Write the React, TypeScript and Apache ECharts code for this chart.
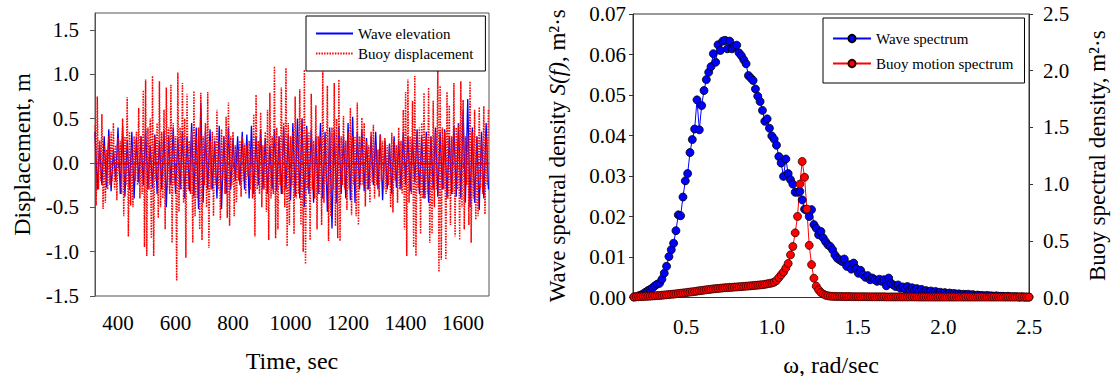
import React, { useEffect, useRef } from "react";
import * as echarts from "echarts";

const FONT = "Liberation Serif";

// ---- Left panel: time series ----
const TIME_START = 320;
const WAVE_STEP = 8;
const BUOY_STEP = 4;
const TIME_TICKS = [400, 600, 800, 1000, 1200, 1400, 1600];
const DISP_TICKS = [-1.5, -1.0, -0.5, 0, 0.5, 1.0, 1.5];

const waveElevation = [
  0.35, -0.3, 0.2, -0.25, 0.3, -0.28, 0.38, -0.32, 0.15, -0.2,
  0.4, -0.35, 0.42, -0.38, 0.25, -0.3, 0.35, -0.4, 0.28, -0.22,
  0.3, -0.25, 0.38, -0.3, 0.2, -0.28, 0.32, -0.35, 0.25, -0.3,
  0.36, -0.5, 0.3, -0.25, 0.4, -0.35, 0.28, -0.3, 0.35, -0.4,
  0.3, -0.32, 0.45, -0.38, 0.4, -0.52, 0.68, -0.45, 0.35, -0.3,
  0.38, -0.3, 0.25, -0.4, 0.42, -0.52, 0.3, -0.35, 0.4, -0.3,
  0.28, -0.2, 0.3, -0.25, 0.35, -0.3, 0.32, -0.4, 0.42, -0.35,
  0.3, -0.25, 0.38, -0.3, 0.28, -0.35, 0.2, -0.3, 0.38, -0.32,
  0.3, -0.35, 0.4, -0.3, 0.32, -0.42, 0.45, -0.38, 0.5, -0.4,
  0.5, -0.5, 0.42, -0.35, 0.38, -0.45, 0.3, -0.35, 0.45, -0.4,
  0.35, -0.55, 0.4, -0.74, 0.38, -0.45, 0.42, -0.35, 0.3, -0.4,
  0.45, -0.42, 0.52, -0.45, 0.35, -0.3, 0.38, -0.32, 0.28, -0.3,
  0.3, -0.25, 0.35, -0.3, 0.32, -0.42, 0.25, -0.3, 0.22, -0.35,
  0.3, -0.28, 0.25, -0.3, 0.35, -0.25, 0.3, -0.32, 0.28, -0.22,
  0.38, -0.35, 0.3, -0.4, 0.35, -0.45, 0.3, -0.3, 0.4, -0.38,
  0.35, -0.3, 0.38, -0.4, 0.3, -0.35, 0.42, -0.38, 0.45, -0.4,
  0.6, -0.45, 0.72, -0.5, 0.4, -0.45, 0.3, -0.53, 0.35, -0.4, 0.45, -0.3,
];

const buoyDisplacement = [
  0.42, -0.48, 0.75, -0.3, 0.25, -0.2, 0.55, -0.52, 0.2, -0.45, 0.15, -0.3, 0.3, -0.25, 0.35,
  -0.2, 0.45, -0.3, 0.2, -0.42, 0.28, -0.15, 0.25, -0.35, 0.5, -0.6, 0.3, -0.25, 0.74, -0.83,
  0.35, -0.48, 0.2, -0.5, 0.3, -0.2, 0.35, -0.25, 0.62, -0.4, 0.3, -0.35, 0.82, -0.95, 0.94,
  -1.05, 0.4, -0.3, 0.5, -0.85, 0.98, -1.05, 0.3, -0.2, 0.45, -0.62, 0.92, -0.5, 0.35, -0.4,
  0.6, -0.75, 0.85, -0.3, 0.4, -0.35, 0.88, -0.9, 0.45, -0.25, 0.3, -1.33, 1.02, -0.55, 0.4,
  -0.3, 0.9, -0.45, 0.5, -1.07, 0.78, -0.3, 0.25, -0.35, 0.35, -0.9, 0.81, -0.6, 0.3, -0.4,
  0.4, -0.75, 0.79, -0.87, 0.3, -0.25, 0.45, -0.5, 0.8, -0.96, 0.25, -0.3, 0.35, -0.6, 0.3,
  -0.25, 0.6, -0.3, 0.25, -0.64, 0.38, -0.2, 0.3, -0.35, 0.52, -0.62, 0.68, -0.71, 0.3, -0.25,
  0.35, -0.6, 0.2, -0.45, 0.15, -0.2, 0.25, -0.38, 0.3, -0.2, 0.22, -0.35, 0.2, -0.15, 0.25,
  -0.3, 0.15, -0.4, 0.55, -0.83, 0.77, -0.3, 0.25, -0.35, 0.57, -0.5, 0.2, -0.3, 0.35, -0.55,
  0.6, -0.87, 0.79, -0.4, 0.3, -0.35, 1.09, -0.85, 0.4, -0.75, 0.3, -0.25, 0.85, -0.35, 0.45,
  -0.5, 1.07, -0.94, 0.45, -0.7, 0.3, -0.25, 0.35, -0.8, 0.75, -0.4, 0.3, -0.35, 0.83, -0.7,
  0.5, -1.0, 1.05, -1.14, 0.4, -0.3, 0.35, -0.87, 0.78, -0.3, 0.25, -0.4, 0.65, -0.75, 0.3,
  -0.35, 0.3, -0.7, 1.03, -0.45, 0.3, -0.25, 0.87, -0.88, 0.35, -0.6, 0.4, -0.3, 0.9, -0.71,
  0.5, -0.85, 0.94, -0.88, 0.3, -0.25, 0.53, -0.3, 0.25, -0.53, 0.35, -0.3, 0.62, -0.59, 0.3,
  -0.25, 0.3, -0.6, 0.68, -0.7, 0.3, -0.25, 0.51, -0.25, 0.45, -0.49, 0.25, -0.3, 0.2, -0.45,
  0.35, -0.22, 0.43, -0.4, 0.2, -0.25, 0.15, -0.38, 0.32, -0.2, 0.25, -0.3, 0.28, -0.35, 0.2,
  -0.25, 0.2, -0.5, 0.34, -0.56, 0.25, -0.2, 0.2, -0.45, 0.4, -0.3, 0.25, -0.35, 0.6, -0.75,
  0.8, -1.05, 0.94, -0.45, 0.3, -0.35, 0.7, -0.95, 0.98, -1.05, 0.35, -0.3, 0.4, -0.8, 0.45,
  -0.4, 0.79, -0.4, 0.3, -0.35, 0.85, -0.9, 0.3, -0.8, 0.7, -0.5, 0.35, -0.3, 1.06, -1.23,
  0.87, -1.09, 0.4, -0.3, 0.35, -1.09, 0.8, -0.4, 0.65, -0.7, 0.3, -0.35, 0.9, -0.83, 0.4,
  -0.3, 0.45, -0.87, 0.92, -0.5, 0.71, -0.75, 0.3, -0.25, 0.3, -0.7, 0.92, -0.9, 0.35, -0.4,
  0.6, -0.64, 0.3, -0.6, 0.63, -0.3, 0.25, -0.35, 0.64, -0.58, 0.3, -0.25, 0.6,
];

// ---- Right panel: spectra ----
const OMEGA_START = 0.195;
const OMEGA_END = 2.5;
const OMEGA_TICKS = [0.5, 1.0, 1.5, 2.0, 2.5];

const waveSpectrum = [
  0.0001, 0.0002, 0.0004, 0.0006, 0.0009, 0.0013, 0.0017, 0.002, 0.0024, 0.0029,
  0.0033, 0.0035, 0.0045,
  0.006, 0.0077, 0.0101, 0.0118, 0.0134, 0.0165, 0.0204, 0.0202, 0.0248, 0.0288,
  0.0306, 0.0358, 0.039, 0.0416, 0.0488, 0.0414, 0.0474, 0.0511, 0.0538, 0.0556,
  0.057, 0.0602, 0.0581, 0.0624, 0.061, 0.0633, 0.0635, 0.0614, 0.0633, 0.0614,
  0.062, 0.0623, 0.0604, 0.0597, 0.0587, 0.0577, 0.0548, 0.0542, 0.0536, 0.0515,
  0.0497, 0.0484, 0.0462, 0.0435, 0.0441, 0.0418, 0.0399, 0.0391, 0.0376, 0.0348,
  0.0332, 0.0299,
  0.0342, 0.0306, 0.0291, 0.028, 0.026, 0.026, 0.0262, 0.0241, 0.0218, 0.0215,
  0.02, 0.0217, 0.018, 0.0171, 0.0155, 0.0163, 0.0147, 0.0138, 0.013, 0.0126,
  0.0118, 0.0105, 0.0097, 0.0093, 0.0089, 0.0095, 0.0077, 0.0081, 0.007, 0.0085,
  0.0072, 0.006, 0.0067, 0.0056, 0.005, 0.0054, 0.0044, 0.0048, 0.0044, 0.004,
  0.0045, 0.004, 0.0044, 0.0029, 0.0048, 0.0035, 0.0031, 0.0027, 0.0031, 0.0023,
  0.0026, 0.0021, 0.0027, 0.0019,
  0.0024, 0.0018, 0.0022, 0.0016, 0.002, 0.0015, 0.0017, 0.0013, 0.0016, 0.0012,
  0.0015, 0.0011, 0.0013, 0.001, 0.0012, 0.0009, 0.0011, 0.0009, 0.001, 0.0008,
  0.0009, 0.0007, 0.0008, 0.0007, 0.0008, 0.0006, 0.0007, 0.0005, 0.0006, 0.0005,
  0.0005, 0.0004, 0.0005, 0.0004, 0.0004, 0.0003, 0.0004, 0.0003, 0.0003, 0.0003,
  0.0002, 0.0003, 0.0002, 0.0002, 0.0002, 0.0002, 0.0001, 0.0002, 0.0001, 0.0001, 0.0001,
];

const buoySpectrum = [
  0.005, 0.006, 0.007, 0.008, 0.009, 0.01, 0.011, 0.012, 0.014, 0.015, 0.017, 0.018, 0.02, 0.022,
  0.024, 0.026, 0.028, 0.03, 0.032, 0.035, 0.037, 0.04, 0.042, 0.045, 0.048, 0.05, 0.053, 0.056,
  0.06, 0.062, 0.065, 0.068, 0.07, 0.073, 0.076, 0.078, 0.08, 0.082, 0.084, 0.086, 0.087, 0.089,
  0.09, 0.092, 0.093, 0.095, 0.096, 0.098, 0.1, 0.101, 0.103, 0.105, 0.107, 0.109, 0.111, 0.113,
  0.116, 0.12, 0.124, 0.128, 0.135,
  0.15, 0.175, 0.2, 0.225, 0.26, 0.3, 0.376, 0.45, 0.57, 0.715, 1.0, 1.2, 1.06, 0.78, 0.46,
  0.29, 0.17, 0.1, 0.068, 0.044, 0.03, 0.02, 0.015, 0.012, 0.01,
  0.01, 0.009, 0.009, 0.009, 0.008, 0.008, 0.008, 0.008, 0.007, 0.007,
  0.007, 0.007, 0.007, 0.007, 0.006, 0.006, 0.006, 0.006, 0.006, 0.006,
  0.006, 0.006, 0.005, 0.005, 0.005, 0.005, 0.005, 0.005, 0.005, 0.005,
  0.005, 0.005, 0.005, 0.005, 0.005, 0.005, 0.004, 0.004, 0.004, 0.004,
  0.004, 0.004, 0.004, 0.004, 0.004, 0.004, 0.004, 0.004, 0.004, 0.004,
  0.004, 0.004, 0.004, 0.004, 0.004, 0.004, 0.004, 0.004, 0.004, 0.004,
  0.004, 0.004, 0.004, 0.004, 0.004, 0.004, 0.004, 0.004, 0.004, 0.004,
  0.004, 0.004, 0.004, 0.004, 0.004, 0.004, 0.004, 0.004, 0.004, 0.004,
  0.004, 0.004, 0.004, 0.004,
];

const timePairs = (step: number, vals: number[]) =>
  vals.map((v, i) => [TIME_START + step * i, v]);
const omegaPairs = (vals: number[]) => {
  const step = (OMEGA_END - OMEGA_START) / (vals.length - 1);
  return vals.map((v, i) => [OMEGA_START + step * i, v]);
};

const AX1 = "#555";
const AX2 = "#333";

const tickLabel = (margin: number, fmt: (v: number) => string, extra: any = {}) => ({
  show: true,
  fontFamily: FONT,
  fontSize: 21,
  color: "#000",
  margin,
  formatter: (v: number) => fmt(v),
  ...extra,
});

export default function App() {
  const ref = useRef<HTMLDivElement>(null);
  useEffect(() => {
    if (!ref.current) return;
    const chart = echarts.init(ref.current, undefined, { renderer: "svg" });
    const label = (size: number) => ({ fontFamily: FONT, fontSize: size, color: "#000" });
    chart.setOption({
      animation: false,
      backgroundColor: "#fff",
      textStyle: { fontFamily: FONT, color: "#000" },
      grid: [
        {
          left: 95, top: 13, width: 394, height: 283, show: true, borderColor: AX1, borderWidth: 1,
          containLabel: false, outerBoundsMode: "none",
        },
        {
          left: 633, top: 14, width: 396, height: 283.5, show: true, borderColor: AX2, borderWidth: 1,
          containLabel: false, outerBoundsMode: "none",
        },
      ],
      legend: [
        {
          data: ["Wave elevation", "Buoy displacement"],
          orient: "vertical",
          left: 306,
          top: 16,
          itemWidth: 37,
          itemHeight: 14,
          itemGap: 5,
          padding: [10, 12, 10, 9],
          borderColor: "#000",
          borderWidth: 1,
          backgroundColor: "#fff",
          itemStyle: { opacity: 0 },
          textStyle: label(15),
        },
        {
          data: ["Wave spectrum", "Buoy motion spectrum"],
          orient: "vertical",
          left: 823,
          top: 18,
          itemWidth: 38,
          itemHeight: 9,
          itemGap: 10,
          padding: [13, 11, 12, 9],
          borderColor: "#000",
          borderWidth: 1,
          backgroundColor: "#fff",
          textStyle: label(15),
        },
      ],
      xAxis: [
        {
          gridIndex: 0,
          type: "value",
          min: 320,
          max: 1690,
          axisLine: { show: true, lineStyle: { color: AX1 } },
          axisTick: { show: true, customValues: TIME_TICKS, length: 5, lineStyle: { color: AX1 } },
          axisLabel: tickLabel(16, (v) => String(v), { customValues: TIME_TICKS }),
          splitLine: { show: false },
          name: "Time, sec",
          nameLocation: "middle",
          nameGap: 53,
          nameTextStyle: label(24),
        },
        {
          gridIndex: 1,
          type: "value",
          min: 0.19,
          max: 2.5,
          axisLine: { show: true, lineStyle: { color: AX2 } },
          axisTick: { show: false },
          axisLabel: tickLabel(19, (v) => v.toFixed(1), { customValues: OMEGA_TICKS }),
          splitLine: { show: false },
          name: "ω, rad/sec",
          nameLocation: "middle",
          nameGap: 55,
          nameTextStyle: label(24),
        },
      ],
      yAxis: [
        {
          gridIndex: 0,
          type: "value",
          min: -1.5,
          max: 1.69,
          axisLine: { show: true, lineStyle: { color: AX1 } },
          axisTick: { show: true, customValues: DISP_TICKS, length: 5, lineStyle: { color: AX1 } },
          axisLabel: tickLabel(16, (v) => v.toFixed(1), { customValues: DISP_TICKS }),
          splitLine: { show: false },
          name: "Displacement, m",
          nameLocation: "middle",
          nameRotate: 90,
          nameGap: 61,
          nameTextStyle: label(24),
        },
        {
          gridIndex: 1,
          type: "value",
          position: "left",
          min: 0,
          max: 0.07,
          interval: 0.01,
          axisLine: { show: true, lineStyle: { color: AX2 } },
          axisTick: { show: true, length: 4, lineStyle: { color: AX2 } },
          axisLabel: tickLabel(7, (v) => v.toFixed(2)),
          splitLine: { show: false },
          name: "Wave spectral density {it|S(f)}, m²·s",
          nameLocation: "middle",
          nameRotate: 90,
          nameGap: 64,
          nameTextStyle: {
            ...label(23),
            rich: { it: { fontFamily: FONT, fontSize: 23, fontStyle: "italic", color: "#000" } },
          },
        },
        {
          gridIndex: 1,
          type: "value",
          position: "right",
          min: 0,
          max: 2.5,
          interval: 0.5,
          axisLine: { show: true, lineStyle: { color: AX2 } },
          axisTick: { show: true, length: 4, lineStyle: { color: AX2 } },
          axisLabel: tickLabel(14, (v) => v.toFixed(1)),
          splitLine: { show: false },
          name: "Buoy spectral density, m²·s",
          nameLocation: "middle",
          nameRotate: 90,
          nameGap: 57,
          nameTextStyle: label(23),
        },
      ],
      series: [
        {
          name: "Wave elevation",
          type: "line",
          xAxisIndex: 0,
          yAxisIndex: 0,
          data: timePairs(WAVE_STEP, waveElevation),
          showSymbol: false,
          symbol: "none",
          lineStyle: { color: "#0000ff", width: 1.3 },
          itemStyle: { color: "#0000ff" },
        },
        {
          name: "Buoy displacement",
          type: "line",
          xAxisIndex: 0,
          yAxisIndex: 0,
          data: timePairs(BUOY_STEP, buoyDisplacement),
          showSymbol: false,
          symbol: "none",
          lineStyle: { color: "#ff0000", width: 1.5, type: [1.5, 1.2] },
          itemStyle: { color: "#ff0000" },
        },
        {
          name: "Wave spectrum",
          type: "line",
          xAxisIndex: 1,
          yAxisIndex: 1,
          data: omegaPairs(waveSpectrum),
          symbol: "circle",
          symbolSize: 8,
          showSymbol: true,
          lineStyle: { color: "#0000ff", width: 1 },
          itemStyle: { color: "#0000ff", borderColor: "#000", borderWidth: 0.8 },
        },
        {
          name: "Buoy motion spectrum",
          type: "line",
          xAxisIndex: 1,
          yAxisIndex: 2,
          data: omegaPairs(buoySpectrum),
          symbol: "circle",
          symbolSize: 8,
          showSymbol: true,
          lineStyle: { color: "#ff0000", width: 1 },
          itemStyle: { color: "#ff0000", borderColor: "#300", borderWidth: 0.8 },
        },
      ],
    });
    return () => chart.dispose();
  }, []);
  return (
    <div
      ref={ref}
      style={{ position: "fixed", left: 0, top: 0, width: 1118, height: 376, background: "#fff" }}
    />
  );
}
